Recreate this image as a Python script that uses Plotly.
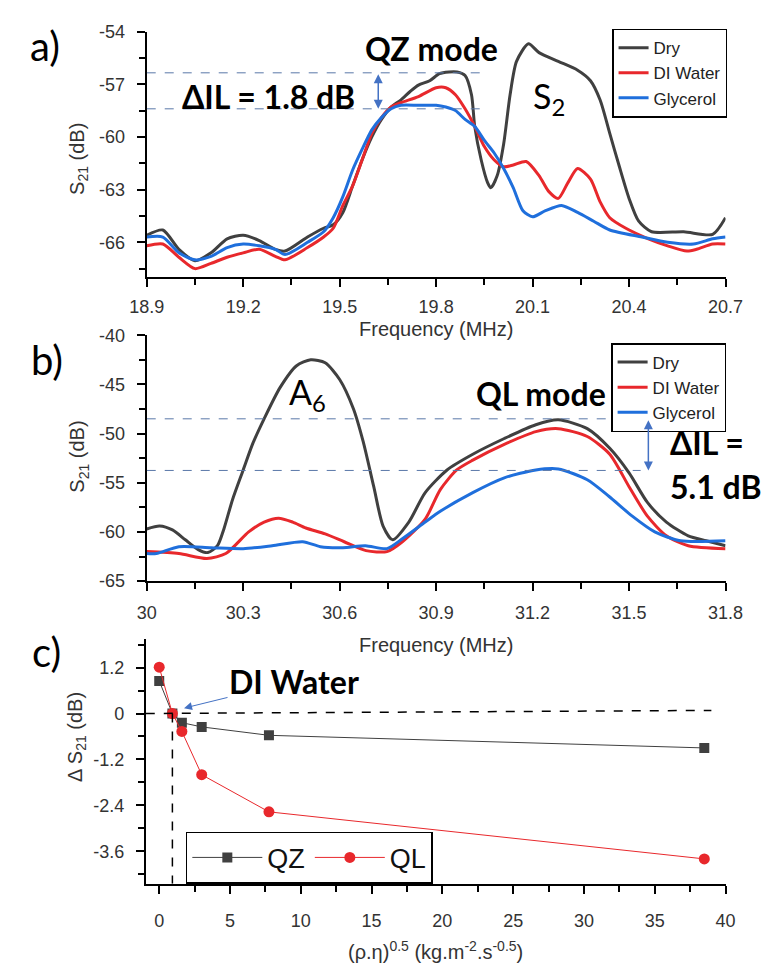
import plotly.graph_objects as go

W, H = 775, 979

# ---------------- Panel a data (QZ mode region) ----------------
dry_a_f = [18.90, 18.95, 19.00, 19.05, 19.10, 19.15, 19.20, 19.25, 19.30, 19.33, 19.40, 19.45, 19.48,
           19.51, 19.54, 19.57, 19.60, 19.63, 19.66, 19.69, 19.72, 19.745, 19.78, 19.81, 19.84, 19.865,
           19.89, 19.91, 19.92, 19.94, 19.96, 19.97, 19.99, 20.01, 20.03, 20.05, 20.087, 20.12, 20.18,
           20.24, 20.28, 20.31, 20.34, 20.37, 20.40, 20.43, 20.47, 20.57, 20.66, 20.70]
dry_a_s = [-65.6, -65.3, -66.4, -67.05, -66.6, -65.8, -65.6, -65.9, -66.4, -66.5, -65.7, -65.2, -65.0,
           -64.3, -62.8, -61.3, -60.0, -59.0, -58.3, -57.9, -57.4, -57.05, -56.8, -56.4, -56.3, -56.3,
           -56.5, -57.6, -59.4, -61.3, -62.6, -62.9, -62.2, -60.4, -57.6, -55.7, -54.7, -55.2, -55.7,
           -56.2, -56.8, -57.9, -59.8, -61.7, -63.5, -64.8, -65.4, -65.4, -65.55, -64.6]

water_a_f = [18.90, 18.95, 19.00, 19.05, 19.10, 19.15, 19.20, 19.25, 19.30, 19.33, 19.40, 19.45, 19.48,
             19.51, 19.54, 19.57, 19.60, 19.63, 19.66, 19.69, 19.745, 19.80, 19.83, 19.86, 19.89, 19.92,
             19.95, 19.98, 20.01, 20.04, 20.08, 20.12, 20.15, 20.18, 20.21, 20.24, 20.28, 20.31, 20.34,
             20.39, 20.46, 20.52, 20.58, 20.61, 20.66, 20.70]
water_a_s = [-66.2, -66.1, -66.85, -67.5, -67.2, -66.85, -66.6, -66.4, -66.8, -67.0, -66.3, -65.7, -65.2,
             -63.9, -62.8, -61.3, -59.8, -58.9, -58.3, -58.05, -57.7, -57.2, -57.2, -57.6, -58.4, -59.4,
             -60.55, -61.3, -61.7, -61.6, -61.4, -62.2, -63.1, -63.5, -62.6, -61.8, -62.4, -63.7, -64.6,
             -65.2, -65.8, -66.2, -66.5, -66.4, -66.1, -66.1]

gly_a_f = [18.90, 18.95, 19.00, 19.05, 19.10, 19.15, 19.20, 19.25, 19.30, 19.33, 19.40, 19.45, 19.48,
           19.51, 19.54, 19.57, 19.60, 19.63, 19.66, 19.69, 19.745, 19.80, 19.83, 19.86, 19.89, 19.92,
           19.95, 19.98, 20.01, 20.04, 20.07, 20.10, 20.14, 20.19, 20.24, 20.29, 20.34, 20.44, 20.52,
           20.60, 20.66, 20.70]
gly_a_s = [-65.7, -65.7, -66.6, -67.0, -66.8, -66.3, -66.1, -66.2, -66.4, -66.7, -66.0, -65.4, -64.6,
           -63.4, -61.9, -60.7, -59.6, -58.9, -58.4, -58.2, -58.2, -58.2, -58.3, -58.5, -59.0, -59.4,
           -60.2, -60.9, -61.8, -62.9, -64.2, -64.55, -64.2, -63.9, -64.3, -64.8, -65.3, -65.7, -66.0,
           -66.1, -65.8, -65.7]

# ---------------- Panel b data (QL mode region) ----------------
dry_b_f = [30.00, 30.04, 30.08, 30.12, 30.16, 30.19, 30.22, 30.24, 30.267, 30.30, 30.33, 30.365, 30.415,
           30.466, 30.51, 30.555, 30.60, 30.643, 30.673, 30.706, 30.735, 30.765, 30.815, 30.866, 30.934,
           31.014, 31.112, 31.21, 31.28, 31.37, 31.44, 31.50, 31.557, 31.616, 31.684, 31.74, 31.80]
dry_b_s = [-59.7, -59.4, -59.8, -60.8, -61.8, -62.1, -61.4, -59.7, -56.7, -53.7, -51.0, -48.5, -45.3,
           -43.1, -42.5, -42.8, -44.5, -47.5, -50.8, -55.4, -59.4, -60.8, -59.0, -56.0, -53.7,
           -52.1, -50.5, -49.1, -48.6, -49.5, -51.5, -54.0, -57.0, -59.0, -60.4, -60.9, -61.4]

water_b_f = [30.00, 30.10, 30.187, 30.246, 30.317, 30.365, 30.41, 30.454, 30.495, 30.555, 30.614, 30.682,
             30.747, 30.795, 30.866, 30.913, 30.964, 31.014, 31.112, 31.21, 31.28, 31.37, 31.44, 31.50,
             31.557, 31.616, 31.684, 31.80]
water_b_s = [-62.0, -62.2, -62.7, -62.2, -60.0, -59.0, -58.6, -59.0, -59.6, -60.2, -61.0, -61.9,
             -62.0, -61.0, -58.7, -55.7, -53.7, -52.7, -51.1, -49.8, -49.5, -50.3, -52.1, -55.4,
             -58.4, -60.4, -61.4, -61.7]

gly_b_f = [30.00, 30.03, 30.10, 30.20, 30.30, 30.39, 30.485, 30.54, 30.61, 30.68, 30.747, 30.795, 30.866,
           30.913, 31.014, 31.112, 31.21, 31.28, 31.37, 31.438, 31.51, 31.58, 31.66, 31.80]
gly_b_s = [-62.2, -62.2, -61.5, -61.6, -61.7, -61.4, -61.0, -61.5, -61.6, -61.4, -61.7, -60.7, -59.0,
           -57.9, -56.0, -54.5, -53.7, -53.6, -54.7, -56.4, -58.4, -60.0, -60.9, -60.9]

# ---------------- Panel c data ----------------
visc = [0.0, 0.93, 1.6, 3.0, 7.75, 38.5]
dS_qz = [0.85, 0.0, -0.24, -0.35, -0.57, -0.90]
dS_ql = [1.21, 0.0, -0.47, -1.60, -2.57, -3.80]

series_names = ["Dry", "DI Water", "Glycerol"]
colors = ["#404040", "#e8282c", "#1f6fdc"]

# tick values / labels
a_xticks = [18.9, 19.2, 19.5, 19.8, 20.1, 20.4, 20.7]
a_yticks = [-66, -63, -60, -57, -54]
b_xticks = [30, 30.3, 30.6, 30.9, 31.2, 31.5, 31.8]
b_yticks = [-65, -60, -55, -50, -45, -40]
c_xticks = [0, 5, 10, 15, 20, 25, 30, 35, 40]
c_yticks = [-3.6, -2.4, -1.2, 0, 1.2]


def lab(v):
    return "%g" % v


TICKFONT = dict(family="Arial, Liberation Sans, sans-serif", size=18, color="#333333")
TITLEFONT = dict(family="Arial, Liberation Sans, sans-serif", size=20, color="#333333")
BOLD = dict(family="Lato, Open Sans, sans-serif", size=32, color="black")
REG = dict(family="Lato, Open Sans, sans-serif", size=34, color="black")


def P(px, py):
    return px / W, 1 - py / H


fig = go.Figure()

for f, s, name, c in zip([dry_a_f, water_a_f, gly_a_f], [dry_a_s, water_a_s, gly_a_s], series_names, colors):
    fig.add_trace(go.Scatter(x=f, y=s, name=name, mode="lines",
                             line=dict(color=c, width=3, shape="spline", smoothing=0.7),
                             xaxis="x", yaxis="y", legend="legend"))
for f, s, name, c in zip([dry_b_f, water_b_f, gly_b_f], [dry_b_s, water_b_s, gly_b_s], series_names, colors):
    fig.add_trace(go.Scatter(x=f, y=s, name=name, mode="lines",
                             line=dict(color=c, width=3, shape="spline", smoothing=0.7),
                             xaxis="x2", yaxis="y2", legend="legend2"))

fig.add_trace(go.Scatter(x=visc, y=dS_qz, name="QZ", mode="lines+markers",
                         line=dict(color="#404040", width=1),
                         marker=dict(symbol="square", size=10, color="#404040"),
                         xaxis="x3", yaxis="y3", legend="legend3"))
fig.add_trace(go.Scatter(x=visc, y=dS_ql, name="QL", mode="lines+markers",
                         line=dict(color="#e8282c", width=1),
                         marker=dict(symbol="circle", size=11, color="#e8282c"),
                         xaxis="x3", yaxis="y3", legend="legend3"))

axis_common = dict(showline=True, linecolor="black", linewidth=2, ticks="outside", ticklen=8,
                   tickwidth=2, tickcolor="black", showgrid=False, zeroline=False,
                   tickfont=TICKFONT, tickmode="array")


def minor(d):
    return dict(ticks="outside", ticklen=6, tickwidth=2, tickcolor="black", dtick=d, tickmode="linear")


xdom = [135 / W, 742 / W]
fig.update_layout(
    width=W, height=H, margin=dict(l=0, r=0, t=0, b=0),
    paper_bgcolor="white", plot_bgcolor="white",
    xaxis=dict(axis_common, domain=xdom, range=[18.9, 20.7], tickvals=a_xticks,
               ticktext=[lab(v) for v in a_xticks], anchor="y", ticklabelstandoff=4,
               minor=dict(minor(0.15), tick0=18.9)),
    yaxis=dict(axis_common, domain=[1 - 273 / H, 1 - 22 / H], range=[-68, -54], tickvals=a_yticks,
               ticktext=[lab(v) for v in a_yticks], anchor="x", ticklabelstandoff=8,
               minor=dict(minor(1.5), tick0=-54)),
    xaxis2=dict(axis_common, domain=xdom, range=[30, 31.8], tickvals=b_xticks,
                ticktext=[lab(v) for v in b_xticks], anchor="y2", ticklabelstandoff=6,
                minor=dict(minor(0.15), tick0=30)),
    yaxis2=dict(axis_common, domain=[1 - 583 / H, 1 - 332 / H], range=[-65, -40], tickvals=b_yticks,
                ticktext=[lab(v) for v in b_yticks], anchor="x2", ticklabelstandoff=8,
                minor=dict(minor(2.5), tick0=-40)),
    xaxis3=dict(axis_common, domain=[134 / W, 742 / W], range=[-0.95, 40], tickvals=c_xticks,
                ticktext=[lab(v) for v in c_xticks], anchor="y3", ticklabelstandoff=12,
                minor=dict(minor(2.5), tick0=0)),
    yaxis3=dict(axis_common, domain=[1 - 892 / H, 1 - 642 / H], range=[-4.45, 1.95], tickvals=c_yticks,
                ticktext=[lab(v) for v in c_yticks], anchor="x3", ticklabelstandoff=8,
                minor=dict(minor(0.6), tick0=0)),
    legend=dict(x=623 / W, y=1 - 19 / H, xanchor="left", yanchor="top", bgcolor="white",
                bordercolor="black", borderwidth=1.5, tracegroupgap=0,
                font=dict(family="Arial, Liberation Sans, sans-serif", size=17, color="#222222")),
    legend2=dict(x=622 / W, y=1 - 340 / H, xanchor="left", yanchor="top", bgcolor="white",
                 bordercolor="black", borderwidth=1.5, tracegroupgap=0,
                 font=dict(family="Arial, Liberation Sans, sans-serif", size=17, color="#222222")),
    legend3=dict(x=176 / W, y=1 - 839 / H, xanchor="left", yanchor="top", bgcolor="white",
                 orientation="h", bordercolor="black", borderwidth=1.5, itemwidth=70,
                 font=dict(family="Arial, Liberation Sans, sans-serif", size=27, color="#111111")),
)

dash_col = "#5a78a8"
shapes = [
    # panel a reference lines
    dict(type="line", xref="x", yref="y", x0=18.9, x1=19.953, y0=-56.35, y1=-56.35,
         line=dict(color=dash_col, width=1, dash="dash")),
    dict(type="line", xref="x", yref="y", x0=18.9, x1=19.953, y0=-58.4, y1=-58.4,
         line=dict(color=dash_col, width=1, dash="dash")),
    # panel b reference lines
    dict(type="line", xref="x2", yref="y2", x0=30, x1=31.536, y0=-48.5, y1=-48.5,
         line=dict(color=dash_col, width=1, dash="dash")),
    dict(type="line", xref="x2", yref="y2", x0=30, x1=31.536, y0=-53.75, y1=-53.75,
         line=dict(color=dash_col, width=1, dash="dash")),
    # panel c reference lines
    dict(type="line", xref="x3", yref="y3", x0=-0.95, x1=39.0, y0=0, y1=0.08,
         line=dict(color="black", width=1.5, dash="dash")),
    dict(type="line", xref="x3", yref="y3", x0=0.93, x1=0.93, y0=0, y1=-4.45,
         line=dict(color="black", width=1.5, dash="dash")),
]
fig.update_layout(shapes=shapes)

ann = []


def txt(px, py, text, font, xanchor="center", textangle=0):
    x, y = P(px, py)
    ann.append(dict(xref="paper", yref="paper", x=x, y=y, text=text, showarrow=False,
                    font=font, xanchor=xanchor, yanchor="middle", textangle=textangle))


# panel labels
txt(28, 37, "a)", dict(family="Lato, sans-serif", size=40, color="black"))
txt(30, 357, "b)", dict(family="Lato, sans-serif", size=40, color="black"))
txt(30, 655, "c)", dict(family="Lato, sans-serif", size=40, color="black"))

# axis titles
txt(438, 326, "Frequency (MHz)", TITLEFONT)
txt(438, 648, "Frequency (MHz)", TITLEFONT)
txt(438, 960, "(ρ.η)<sup>0.5</sup> (kg.m<sup>-2</sup>.s<sup>-0.5</sup>)", TITLEFONT)
txt(64, 152, "S<sub>21</sub> (dB)", TITLEFONT, textangle=-90)
txt(64, 456, "S<sub>21</sub> (dB)", TITLEFONT, textangle=-90)
txt(62, 742, "Δ S<sub>21</sub> (dB)", TITLEFONT, textangle=-90)

# annotations in panels
txt(434, 39, "<b>QZ mode</b>", BOLD)
txt(263, 88, "<b>ΔIL = 1.8 dB</b>", BOLD)
txt(557, 90, "S<sub>2</sub>", REG)
txt(304, 392, "A<sub>6</sub>", REG)
txt(549, 392, "<b>QL mode</b>", BOLD)
txt(682, 442, "<b>ΔIL =</b>", BOLD, xanchor="left")
txt(682, 486, "<b>5.1 dB</b>", BOLD, xanchor="left")

# double arrows
arrow_col = "#4472c4"
ann.append(dict(xref="x", yref="y", axref="x", ayref="y", x=19.62, y=-58.4, ax=19.62, ay=-56.35,
                text="", showarrow=True, arrowhead=2, arrowside="end+start", arrowsize=1.2,
                arrowwidth=1.5, arrowcolor=arrow_col, standoff=0, startstandoff=0))
ann.append(dict(xref="x2", yref="y2", axref="x2", ayref="y2", x=31.56, y=-53.75, ax=31.56, ay=-48.5,
                text="", showarrow=True, arrowhead=2, arrowside="end+start", arrowsize=1.2,
                arrowwidth=1.5, arrowcolor=arrow_col, standoff=0, startstandoff=0))
# DI Water pointer in panel c
ann.append(dict(xref="x3", yref="y3", x=1.75, y=0.14, ax=110, ay=-27,
                text="<b>DI Water</b>", showarrow=True, arrowhead=2, arrowsize=1.6,
                arrowwidth=1, arrowcolor=arrow_col, font=BOLD, standoff=0))

fig.update_layout(annotations=ann)
fig.write_html("out.html")
